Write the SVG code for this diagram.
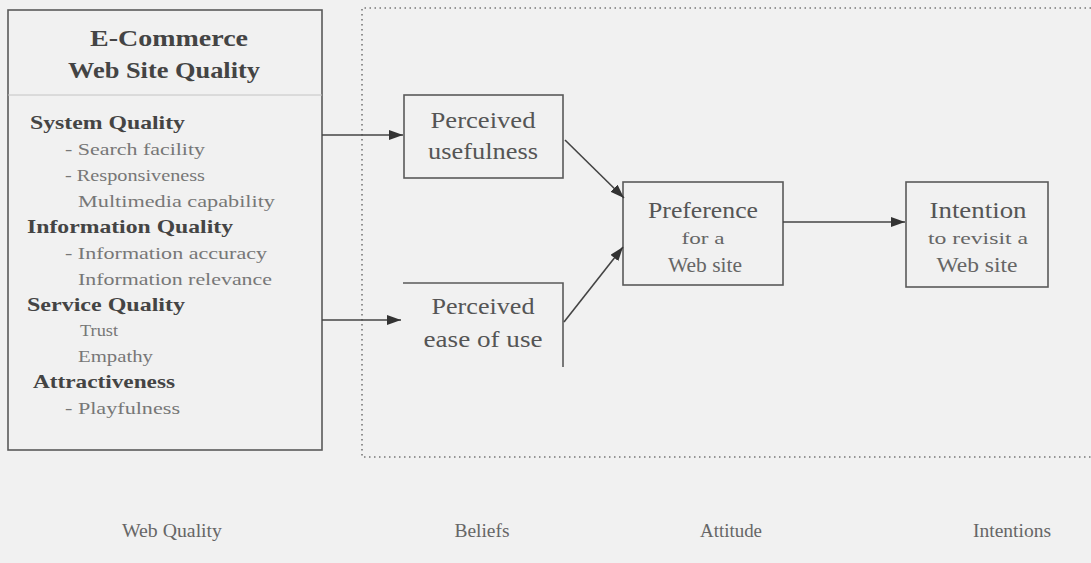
<svg xmlns="http://www.w3.org/2000/svg" width="1091" height="563" viewBox="0 0 1091 563">
<defs>
<marker id="ah" viewBox="0 0 14 10" refX="14" refY="5" markerWidth="14" markerHeight="10" markerUnits="userSpaceOnUse" orient="auto">
<path d="M0,0 L14,5 L0,10 z" fill="#333"/>
</marker>
</defs>
<style>
.bg{fill:#f1f1f1}
.box{fill:none;stroke:#5a5a5a;stroke-width:1.6}
.dot{fill:none;stroke:#777;stroke-width:1.6;stroke-dasharray:1.5 3.5}
.edge{fill:none;stroke:#444;stroke-width:1.6;marker-end:url(#ah)}
text{font-family:"Liberation Serif","Times New Roman",serif;fill:#555}
.title{font-size:23px;font-weight:bold;fill:#444;text-anchor:middle}
.head{font-size:19px;font-weight:bold;fill:#444}
.sub{font-size:17px;fill:#777}
.n1{font-size:23px;text-anchor:middle;fill:#555}
.n2{font-size:17px;text-anchor:middle;fill:#666}
.n3{font-size:20px;text-anchor:middle;fill:#666}
.lab{font-size:19px;text-anchor:middle;fill:#666}
</style>
<rect class="bg" x="0" y="0" width="1091" height="563"/>
<g id="beliefs-region">
<path class="dot" d="M1091,8 L362,8 L362,457 L1091,457"/>
</g>
<g id="web-quality">
<rect class="box" x="8" y="10" width="314" height="440"/>
<line x1="8" y1="95" x2="322" y2="95" stroke="#c4c4c4" stroke-width="1"/>
<text class="title" x="169" y="46" textLength="158" lengthAdjust="spacingAndGlyphs">E-Commerce</text>
<text class="title" x="164" y="78" textLength="192" lengthAdjust="spacingAndGlyphs">Web Site Quality</text>
<text class="head" x="30" y="129" textLength="155" lengthAdjust="spacingAndGlyphs">System Quality</text>
<text class="sub" x="65" y="155" textLength="140" lengthAdjust="spacingAndGlyphs">- Search facility</text>
<text class="sub" x="65" y="181" textLength="140" lengthAdjust="spacingAndGlyphs">- Responsiveness</text>
<text class="sub" x="78" y="207" textLength="197" lengthAdjust="spacingAndGlyphs">Multimedia capability</text>
<text class="head" x="27" y="233" textLength="206" lengthAdjust="spacingAndGlyphs">Information Quality</text>
<text class="sub" x="65" y="259" textLength="202" lengthAdjust="spacingAndGlyphs">- Information accuracy</text>
<text class="sub" x="78" y="285" textLength="194" lengthAdjust="spacingAndGlyphs">Information relevance</text>
<text class="head" x="27" y="311" textLength="158" lengthAdjust="spacingAndGlyphs">Service Quality</text>
<text class="sub" x="80" y="336" textLength="38" lengthAdjust="spacingAndGlyphs">Trust</text>
<text class="sub" x="78" y="362" textLength="75" lengthAdjust="spacingAndGlyphs">Empathy</text>
<text class="head" x="33" y="388" textLength="142" lengthAdjust="spacingAndGlyphs">Attractiveness</text>
<text class="sub" x="65" y="414" textLength="115" lengthAdjust="spacingAndGlyphs">- Playfulness</text>
</g>
<g id="perceived-usefulness">
<rect class="box" x="404" y="95" width="159" height="83"/>
<text class="n1" x="483" y="128" textLength="105" lengthAdjust="spacingAndGlyphs">Perceived</text>
<text class="n1" x="483" y="159" textLength="110" lengthAdjust="spacingAndGlyphs">usefulness</text>
</g>
<g id="perceived-ease">
<path class="box" d="M403,283 L563,283 L563,367"/>
<text class="n1" x="483" y="314" textLength="103" lengthAdjust="spacingAndGlyphs">Perceived</text>
<text class="n1" x="483" y="347" textLength="119" lengthAdjust="spacingAndGlyphs">ease of use</text>
</g>
<g id="preference">
<rect class="box" x="623" y="182" width="160" height="103"/>
<text class="n1" x="703" y="218" textLength="110" lengthAdjust="spacingAndGlyphs">Preference</text>
<text class="n2" x="703" y="244" textLength="43" lengthAdjust="spacingAndGlyphs">for a</text>
<text class="n3" x="705" y="272" textLength="74" lengthAdjust="spacingAndGlyphs">Web site</text>
</g>
<g id="intention">
<rect class="box" x="906" y="182" width="142" height="105"/>
<text class="n1" x="978" y="218" textLength="97" lengthAdjust="spacingAndGlyphs">Intention</text>
<text class="n2" x="978" y="244" textLength="100" lengthAdjust="spacingAndGlyphs">to revisit a</text>
<text class="n3" x="977" y="272" textLength="81" lengthAdjust="spacingAndGlyphs">Web site</text>
</g>
<g id="connectors">
<line class="edge" x1="322" y1="135" x2="403" y2="135"/>
<line class="edge" x1="322" y1="320" x2="401" y2="320"/>
<line class="edge" x1="565" y1="140" x2="624" y2="198"/>
<line class="edge" x1="564" y1="322" x2="623" y2="247"/>
<line class="edge" x1="783" y1="222" x2="905" y2="222"/>
</g>
<g id="stage-labels">
<text class="lab" x="172" y="537" textLength="100" lengthAdjust="spacingAndGlyphs">Web Quality</text>
<text class="lab" x="482" y="537" textLength="55" lengthAdjust="spacingAndGlyphs">Beliefs</text>
<text class="lab" x="731" y="537" textLength="62" lengthAdjust="spacingAndGlyphs">Attitude</text>
<text class="lab" x="1012" y="537" textLength="78" lengthAdjust="spacingAndGlyphs">Intentions</text>
</g>
</svg>
